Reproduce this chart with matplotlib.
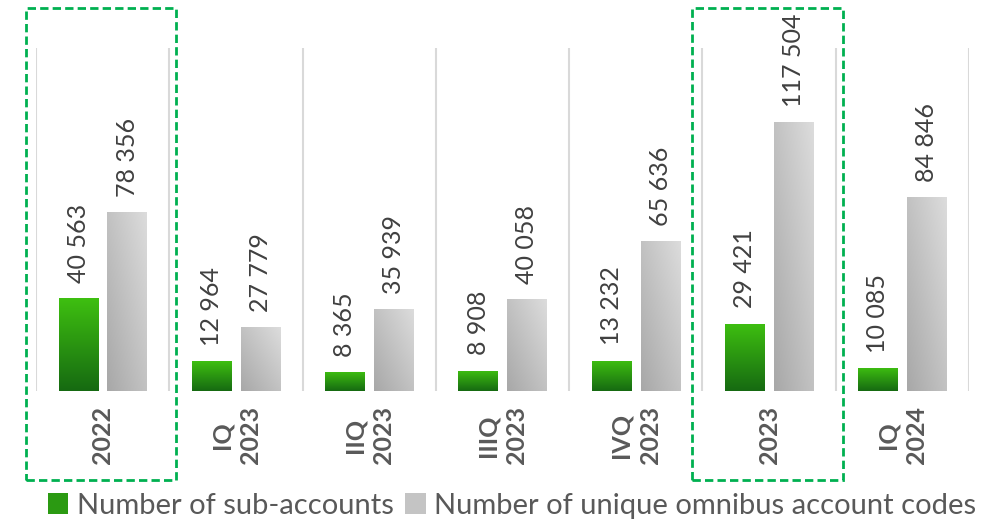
import numpy as np
import matplotlib
matplotlib.use("Agg")
import matplotlib.pyplot as plt
from matplotlib.patches import Rectangle
import matplotlib.transforms as mtransforms

plt.rcParams['font.family'] = ['Lato', 'DejaVu Sans']

# Datos
periodos = ["2022", "IQ\n2023", "IIQ\n2023", "IIIQ\n2023", "IVQ\n2023", "2023", "IQ\n2024"]
sub_cuentas = [40563, 12964, 8365, 8908, 13232, 29421, 10085]
codigos_omnibus = [78356, 27779, 35939, 40058, 65636, 117504, 84846]
resaltados = [0, 5]  # periodos anuales
serie_nombres = ["Number of sub-accounts", "Number of unique omnibus account codes"]


def formato(v):
    return f"{v:,}".replace(",", " ")


def pintar_gradiente(ax, barra, tipo):
    x, y = barra.get_xy()
    w, h = barra.get_width(), barra.get_height()
    if tipo == "verde":
        top = np.array([0x3e, 0xbf, 0x10]) / 255
        bot = np.array([0x16, 0x6a, 0x12]) / 255
        t = np.linspace(0, 1, 64)[:, None, None]
        img = bot + (top - bot) * t
        img = np.repeat(img, 2, axis=1)
    else:
        gx, gy = np.meshgrid(np.linspace(0, 1, 32), np.linspace(0, 1, 64))
        t = (gx + gy) / 2
        dark = 0xa8 / 255
        light = 0xdc / 255
        v = dark + (light - dark) * t
        img = np.dstack([v, v, v])
    im = ax.imshow(img, extent=[x, x + w, y, y + h], origin='lower',
                   aspect='auto', zorder=3, interpolation='bilinear')
    im.set_clip_path(barra)


fig = plt.figure(figsize=(10.08, 5.23), dpi=100)
ax = fig.add_axes([36 / 1008, 1 - 391 / 523, (969 - 36) / 1008, (391 - 48) / 523])

x = np.arange(len(periodos))
ancho = 0.295
desp = 0.183

barras_v = ax.bar(x - desp, sub_cuentas, ancho, color='none', zorder=2)
barras_g = ax.bar(x + desp, codigos_omnibus, ancho, color='none', zorder=2)

for b in barras_v:
    pintar_gradiente(ax, b, "verde")
for b in barras_g:
    pintar_gradiente(ax, b, "gris")

for xi, v in zip(x - desp, sub_cuentas):
    ax.annotate(formato(v), (xi, v), xytext=(0, 11), textcoords='offset points',
                rotation=90, ha='center', va='bottom', fontsize=18, color='#404040')
for xi, v in zip(x + desp, codigos_omnibus):
    ax.annotate(formato(v), (xi, v), xytext=(0, 11), textcoords='offset points',
                rotation=90, ha='center', va='bottom', fontsize=18, color='#404040')

ax.set_xlim(-0.5, len(periodos) - 0.5)
ax.set_ylim(0, 150000)
ax.set_xticks(x)
ax.set_xticklabels(periodos, rotation=90, fontsize=18, color='#595959',
                   fontweight='bold', ha='center', va='top', linespacing=1.3)
ax.tick_params(axis='x', length=0, pad=11)
ax.set_yticks([])
ax.set_xticks(np.arange(-0.5, len(periodos)), minor=True)
ax.tick_params(axis='x', which='minor', length=0)
ax.grid(which='minor', axis='x', color='#d9d9d9', linewidth=1.5, zorder=0)
for s in ax.spines.values():
    s.set_visible(False)

# Marcos punteados en los periodos anuales
trans = mtransforms.blended_transform_factory(ax.transData, fig.transFigure)
for i in resaltados:
    rect = Rectangle((i - 0.575, 1 - 480 / 523), 1.128, (480 - 8) / 523,
                     transform=trans, fill=False, edgecolor='#00b050',
                     linestyle=(0, (3, 1.5)), linewidth=2, clip_on=False)
    fig.add_artist(rect)

# Leyenda
h1 = Rectangle((0, 0), 1, 1, facecolor='#2b9a12')
h2 = Rectangle((0, 0), 1, 1, facecolor='#c4c4c4')
fig.legend([h1, h2], serie_nombres, loc='lower center', bbox_to_anchor=(0.508, -0.042),
           ncol=2, frameon=False, fontsize=21, labelcolor='#595959',
           handlelength=0.7, handleheight=0.7, handletextpad=0.3, columnspacing=0.4)

fig.savefig("out.png", dpi=100)
